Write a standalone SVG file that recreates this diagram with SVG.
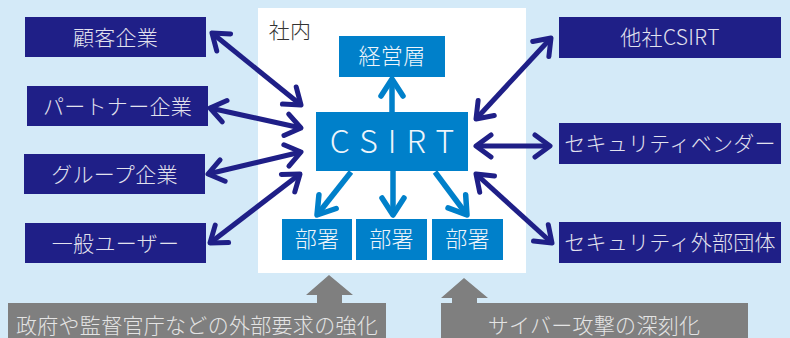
<svg xmlns="http://www.w3.org/2000/svg" width="790" height="338" viewBox="0 0 790 338">
<style>
text{font-family:"Noto Sans CJK JP","Noto Sans",sans-serif;font-size:21px;font-weight:300;letter-spacing:0.3px;text-anchor:middle}
.navy{fill:#1F1F87}
.blue{fill:#0080CA}
.gray{fill:#7F7F7F}
.tn{fill:#E2E2EE}
.tb{fill:#EEF5FB}
.tg{fill:#E4E4E4}
.cn{stroke:#1F1F87;stroke-width:5;fill:none;marker-start:url(#hn);marker-end:url(#hn)}
.cb{stroke:#0080CA;stroke-width:5.5;fill:none;marker-end:url(#hb)}
</style>
<defs>
<marker id="hn" markerUnits="userSpaceOnUse" viewBox="-25 -20 30 40" refX="0" refY="0" markerWidth="30" markerHeight="40" orient="auto-start-reverse">
<path d="M-15,-11 L0,0 L-15,11" fill="none" stroke="#1F1F87" stroke-width="5" stroke-linecap="round" stroke-linejoin="round"/>
</marker>
<marker id="hb" markerUnits="userSpaceOnUse" viewBox="-25 -20 30 40" refX="0" refY="0" markerWidth="30" markerHeight="40" orient="auto">
<path d="M-17,-11 L0,0 L-17,11" fill="none" stroke="#0080CA" stroke-width="5.5" stroke-linecap="round" stroke-linejoin="round"/>
</marker>
</defs>
<rect x="0" y="0" width="790" height="338" fill="#D4EAF8"/>
<g id="shanai">
<rect x="258" y="8" width="268" height="265" fill="#FFFFFF"/>
<text x="290" y="38" style="fill:#333333">社内</text>
</g>
<g id="connectors">
<line class="cn" x1="212" y1="33" x2="301" y2="105"/>
<line class="cn" x1="210" y1="108" x2="301" y2="128"/>
<line class="cn" x1="208" y1="174" x2="301" y2="152"/>
<line class="cn" x1="210" y1="243" x2="300" y2="174"/>
<line class="cn" x1="551" y1="38" x2="476" y2="119"/>
<line class="cn" x1="550" y1="146" x2="476" y2="146"/>
<line class="cn" x1="552" y1="243" x2="476" y2="174"/>
<line class="cb" x1="392" y1="112" x2="392" y2="79"/>
<line class="cb" x1="351" y1="172" x2="317" y2="215"/>
<line class="cb" x1="393" y1="171" x2="393" y2="215"/>
<line class="cb" x1="435" y1="172" x2="467" y2="215"/>
</g>
<g id="kokyaku"><rect class="navy" x="25" y="17" width="181" height="40"/><text class="tn" x="115.5" y="45">顧客企業</text></g>
<g id="partner"><rect class="navy" x="27" y="86" width="181" height="40"/><text class="tn" x="117.5" y="114">パートナー企業</text></g>
<g id="group"><rect class="navy" x="24" y="154" width="181" height="40"/><text class="tn" x="114.5" y="182">グループ企業</text></g>
<g id="ippan"><rect class="navy" x="25" y="223" width="181" height="40"/><text class="tn" x="115.5" y="251">一般ユーザー</text></g>
<g id="tasha"><rect class="navy" x="559" y="17" width="222" height="41"/><text class="tn" x="670" y="45">他社CSIRT</text></g>
<g id="vendor"><rect class="navy" x="559" y="123" width="222" height="41"/><text class="tn" x="670" y="151">セキュリティベンダー</text></g>
<g id="gaibu"><rect class="navy" x="559" y="222" width="222" height="41"/><text class="tn" x="670" y="250">セキュリティ外部団体</text></g>
<g id="keiei"><rect class="blue" x="339" y="36" width="106" height="41"/><text class="tb" x="392" y="64" style="font-size:22px">経営層</text></g>
<g id="csirt"><rect class="blue" x="316" y="112" width="152" height="59"/><text class="tb" x="397" y="153" style="font-size:32px;letter-spacing:10px">CSIRT</text></g>
<g id="busho1"><rect class="blue" x="282" y="219" width="70" height="41"/><text class="tb" x="317" y="247" style="font-size:22px">部署</text></g>
<g id="busho2"><rect class="blue" x="356" y="219" width="71" height="41"/><text class="tb" x="391.5" y="247" style="font-size:22px">部署</text></g>
<g id="busho3"><rect class="blue" x="432" y="219" width="71" height="41"/><text class="tb" x="467.5" y="247" style="font-size:22px">部署</text></g>
<g id="seifu">
<polygon class="gray" points="329,275 353,295 342,295 342,303 317,303 317,295 306,295"/>
<rect class="gray" x="8" y="303" width="378" height="40"/>
<text class="tg" x="197" y="333">政府や監督官庁などの外部要求の強化</text>
</g>
<g id="cyber">
<polygon class="gray" points="464,278 488,298 477,298 477,303 452,303 452,298 441,298"/>
<rect class="gray" x="441" y="303" width="307" height="40"/>
<text class="tg" x="594" y="333">サイバー攻撃の深刻化</text>
</g>
</svg>
